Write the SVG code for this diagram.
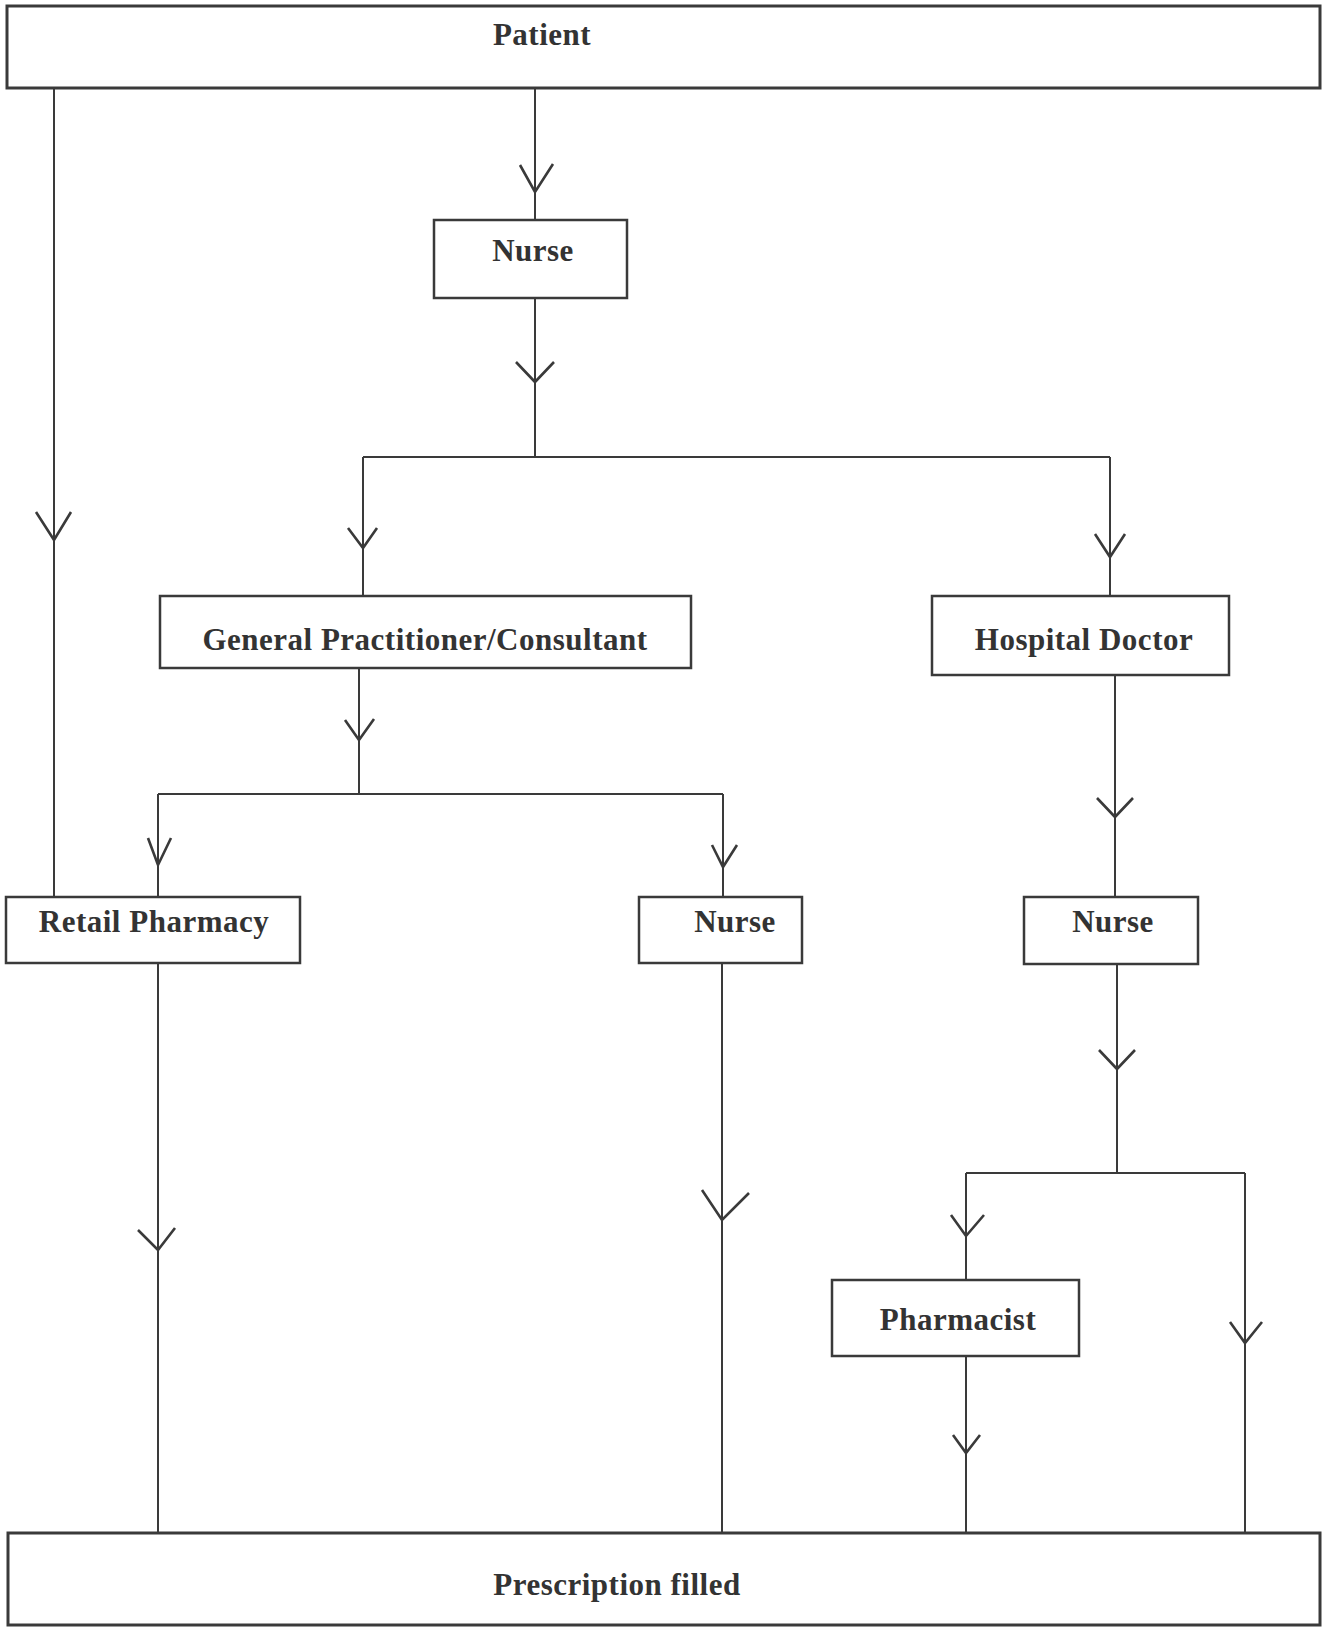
<svg xmlns="http://www.w3.org/2000/svg" width="1327" height="1627" viewBox="0 0 1327 1627">
<style>
.bg{fill:#ffffff}
.box{fill:#ffffff;stroke:#3a3a3a;stroke-width:2.5}
.bigbox{fill:#ffffff;stroke:#3a3a3a;stroke-width:3}
.lbl{font-family:"Liberation Serif","Times New Roman",serif;font-weight:bold;font-size:31px;letter-spacing:0.5px;fill:#333333;text-anchor:middle}
.ln{fill:none;stroke:#3a3a3a;stroke-width:2}
.ah{fill:none;stroke:#3a3a3a;stroke-width:2.6;stroke-linejoin:miter}
</style>
<rect class="bg" x="0" y="0" width="1327" height="1627"/>
<g id="connectors">
  <path class="ln" d="M54 88 V897"/>
  <path class="ah" d="M36 512 L54 540 L71 512"/>
  <path class="ln" d="M535 88 V220"/>
  <path class="ah" d="M520 165 L535 192 L553 164"/>
  <path class="ln" d="M535 298 V457 M363 457 H1110 M363 457 V596 M1110 457 V596"/>
  <path class="ah" d="M516 362 L535 382 L554 362"/>
  <path class="ah" d="M348 528 L363 548 L377 528"/>
  <path class="ah" d="M1095 534 L1110 557 L1125 534"/>
  <path class="ln" d="M359 668 V794 M158 794 H723 M158 794 V897 M723 794 V897"/>
  <path class="ah" d="M345 720 L359 740 L374 719"/>
  <path class="ah" d="M148 838 L158 865 L171 838"/>
  <path class="ah" d="M712 845 L723 867 L737 845"/>
  <path class="ln" d="M1115 675 V897"/>
  <path class="ah" d="M1097 798 L1115 817 L1133 798"/>
  <path class="ln" d="M1117 964 V1173 M966 1173 H1245 M966 1173 V1280 M1245 1173 V1533"/>
  <path class="ah" d="M1099 1050 L1117 1069 L1135 1050"/>
  <path class="ah" d="M951 1215 L966 1236 L984 1215"/>
  <path class="ah" d="M1230 1322 L1245 1343 L1262 1322"/>
  <path class="ln" d="M966 1356 V1533"/>
  <path class="ah" d="M953 1435 L966 1453 L980 1435"/>
  <path class="ln" d="M158 963 V1533"/>
  <path class="ah" d="M138 1230 L158 1250 L175 1228"/>
  <path class="ln" d="M722 963 V1533"/>
  <path class="ah" d="M702 1190 L722 1220 L749 1193"/>
</g>
<g id="patient">
  <rect class="bigbox" x="7" y="6" width="1313" height="82"/>
  <text class="lbl" x="542" y="45">Patient</text>
</g>
<g id="nurse-top">
  <rect class="box" x="434" y="220" width="193" height="78"/>
  <text class="lbl" x="533" y="261">Nurse</text>
</g>
<g id="gp">
  <rect class="box" x="160" y="596" width="531" height="72"/>
  <text class="lbl" x="425" y="650">General Practitioner/Consultant</text>
</g>
<g id="hospital-doctor">
  <rect class="box" x="932" y="596" width="297" height="79"/>
  <text class="lbl" x="1084" y="650">Hospital Doctor</text>
</g>
<g id="retail-pharmacy">
  <rect class="box" x="6" y="897" width="294" height="66"/>
  <text class="lbl" x="154" y="932">Retail Pharmacy</text>
</g>
<g id="nurse-gp">
  <rect class="box" x="639" y="897" width="163" height="66"/>
  <text class="lbl" x="735" y="932">Nurse</text>
</g>
<g id="nurse-hospital">
  <rect class="box" x="1024" y="897" width="174" height="67"/>
  <text class="lbl" x="1113" y="932">Nurse</text>
</g>
<g id="pharmacist">
  <rect class="box" x="832" y="1280" width="247" height="76"/>
  <text class="lbl" x="958" y="1330">Pharmacist</text>
</g>
<g id="prescription-filled">
  <rect class="bigbox" x="8" y="1533" width="1312" height="92"/>
  <text class="lbl" x="617" y="1595">Prescription  filled</text>
</g>
</svg>
